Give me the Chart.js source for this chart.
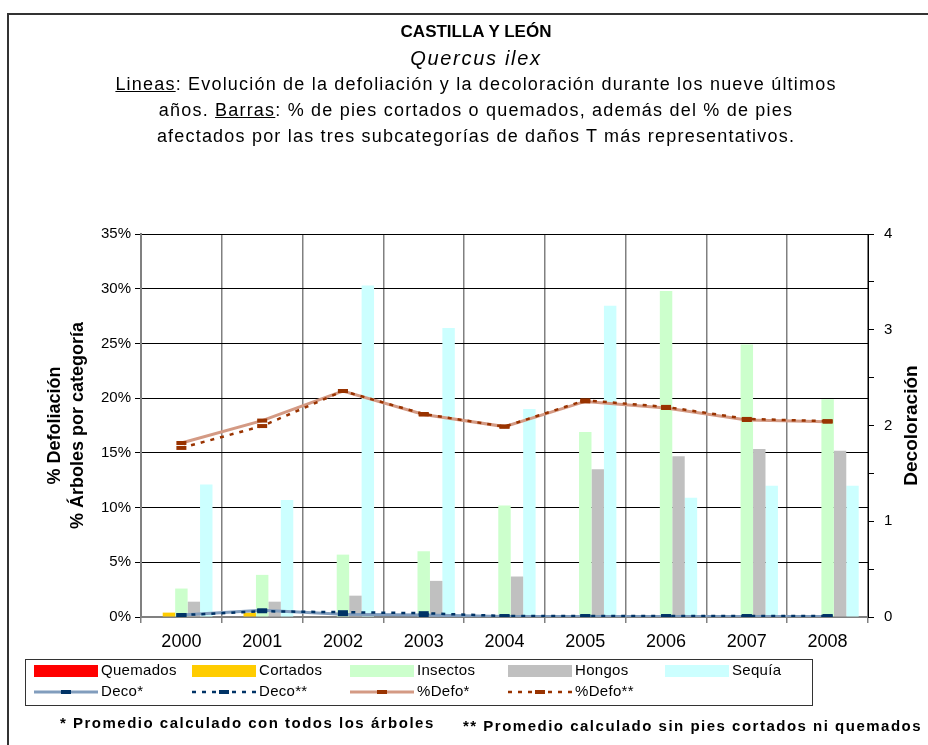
<!DOCTYPE html>
<html>
<head>
<meta charset="utf-8">
<script src="https://cdn.jsdelivr.net/npm/chart.js@4.4.1/dist/chart.umd.min.js"></script>
<style>
  body { margin: 0; width: 928px; height: 745px; overflow: hidden; background: #fff; font-family: "Liberation Sans", Arial, sans-serif; }
  #marco { position: absolute; left: 7px; top: 13px; width: 1000px; height: 800px; border: 2px solid #333; }
  #grafico { position: absolute; left: 0; top: 0; }
  #titulo { position: absolute; left: 0; top: 19px; width: 952px; text-align: center; line-height: 26px; font-size: 18px; letter-spacing: 1.2px; color: #000; }
  #titulo .t1 { font-weight: bold; font-size: 17px; letter-spacing: 0; }
  #titulo .t2 { font-style: italic; font-size: 20px; letter-spacing: 1.7px; }
  .nota { position: absolute; font-weight: bold; font-size: 15px; letter-spacing: 1.5px; white-space: nowrap; color: #000; }
</style>
</head>
<body>
<div id="marco"></div>
<canvas id="grafico" width="928" height="745"></canvas>
<div id="titulo">
  <div class="t1">CASTILLA Y LEÓN</div>
  <div class="t2">Quercus ilex</div>
  <div><u>Lineas</u>: Evolución de la defoliación y la decoloración durante los nueve últimos</div>
  <div>años. <u>Barras</u>: % de pies cortados o quemados, además del % de pies</div>
  <div>afectados por las tres subcategorías de daños T más representativos.</div>
</div>
<div class="nota" style="left:60px; top:714px;">* Promedio calculado con todos los árboles</div>
<div class="nota" style="left:463px; top:717px;">** Promedio calculado sin pies cortados ni quemados</div>
<script>
// Datos
const anios = ['2000', '2001', '2002', '2003', '2004', '2005', '2006', '2007', '2008'];
const quemados = [0, 0, 0, 0, 0, 0, 0, 0.1, 0];
const cortados = [0.4, 0.4, 0, 0, 0, 0, 0, 0, 0];
const insectos = [2.6, 3.85, 5.7, 6.0, 10.2, 16.9, 29.8, 24.9, 19.9];
const hongos = [1.4, 1.4, 1.95, 3.3, 3.7, 13.5, 14.7, 15.35, 15.2];
const sequia = [12.1, 10.7, 30.3, 26.4, 19.0, 28.45, 10.9, 12.0, 12.0];
const decoTodos = [0.02, 0.07, 0.03, 0.02, 0.005, 0.005, 0.005, 0.005, 0.005];
const decoSinCortados = [0.02, 0.06, 0.05, 0.04, 0.01, 0.01, 0.01, 0.01, 0.01];
const defoTodos = [15.9, 17.95, 20.65, 18.5, 17.4, 19.7, 19.1, 18.0, 17.85];
const defoSinCortados = [15.45, 17.45, 20.65, 18.55, 17.4, 19.8, 19.2, 18.1, 17.9];

const fuente = '"Liberation Sans", Arial, sans-serif';
Chart.defaults.font.family = fuente;
Chart.defaults.color = '#000';

// Leyenda en rejilla con marco, como en el original
const leyenda = {
  id: 'leyenda',
  afterDraw(chart) {
    const ctx = chart.ctx;
    ctx.save();
    ctx.strokeStyle = '#333';
    ctx.lineWidth = 1;
    ctx.strokeRect(25.5, 659.5, 787, 46);
    ctx.font = '15px ' + fuente;
    ctx.letterSpacing = '0.3px';
    ctx.textBaseline = 'middle';
    ctx.fillStyle = '#000';
    const columnas = [34, 192, 350, 508, 665];
    chart.data.datasets.forEach((ds, i) => {
      const x = columnas[i % 5];
      const y = i < 5 ? 671 : 692;
      if (ds.type === 'line') {
        ctx.strokeStyle = ds.borderColor;
        ctx.lineWidth = ds.borderWidth;
        ctx.setLineDash(ds.borderDash || []);
        ctx.beginPath();
        ctx.moveTo(x, y);
        ctx.lineTo(x + 64, y);
        ctx.stroke();
        ctx.setLineDash([]);
        ctx.fillStyle = ds.pointBorderColor;
        ctx.fillRect(x + 27, y - 2, 10, 4);
      } else {
        ctx.fillStyle = ds.backgroundColor;
        ctx.fillRect(x, y - 6, 64, 12);
      }
      ctx.fillStyle = '#000';
      ctx.fillText(ds.label, x + 67, y);
    });
    ctx.restore();
  }
};

// Título del eje derecho, leído de abajo arriba
const tituloDerecho = {
  id: 'tituloDerecho',
  afterDraw(chart) {
    const ctx = chart.ctx;
    ctx.save();
    ctx.translate(912, (chart.chartArea.top + chart.chartArea.bottom) / 2);
    ctx.rotate(-Math.PI / 2);
    ctx.font = 'bold 19px ' + fuente;
    ctx.textAlign = 'center';
    ctx.textBaseline = 'middle';
    ctx.fillStyle = '#000';
    ctx.fillText('Decoloración', 0, 0);
    ctx.restore();
  }
};

new Chart(document.getElementById('grafico'), {
  type: 'bar',
  data: {
    labels: anios,
    datasets: [
      { label: 'Quemados', data: quemados, backgroundColor: '#FF0000', order: 3 },
      { label: 'Cortados', data: cortados, backgroundColor: '#FFCC00', order: 3 },
      { label: 'Insectos', data: insectos, backgroundColor: '#CCFFCC', order: 3 },
      { label: 'Hongos', data: hongos, backgroundColor: '#C0C0C0', order: 3 },
      { label: 'Sequía', data: sequia, backgroundColor: '#CCFFFF', order: 3 },
      {
        type: 'line', label: 'Deco*', data: decoTodos, yAxisID: 'y2', order: 2,
        borderColor: '#819DBD', borderWidth: 3,
        pointStyle: 'line', pointRadius: 5, pointBorderWidth: 4, pointBorderColor: '#003366'
      },
      {
        type: 'line', label: 'Deco**', data: decoSinCortados, yAxisID: 'y2', order: 1,
        borderColor: '#003366', borderWidth: 2.5, borderDash: [4, 6],
        pointStyle: 'line', pointRadius: 5, pointBorderWidth: 4, pointBorderColor: '#003366'
      },
      {
        type: 'line', label: '%Defo*', data: defoTodos, yAxisID: 'y', order: 2,
        borderColor: '#D49A84', borderWidth: 3,
        pointStyle: 'line', pointRadius: 5, pointBorderWidth: 4, pointBorderColor: '#993300'
      },
      {
        type: 'line', label: '%Defo**', data: defoSinCortados, yAxisID: 'y', order: 1,
        borderColor: '#993300', borderWidth: 2.5, borderDash: [4, 6],
        pointStyle: 'line', pointRadius: 5, pointBorderWidth: 4, pointBorderColor: '#993300'
      }
    ]
  },
  options: {
    responsive: false,
    animation: false,
    layout: { padding: { left: 0, right: 0, top: 234, bottom: 88 } },
    datasets: { bar: { categoryPercentage: 0.77, barPercentage: 1 } },
    plugins: { legend: { display: false }, tooltip: { enabled: false } },
    scales: {
      x: {
        grid: { color: '#808080', lineWidth: 1.5, tickLength: 6, tickColor: '#808080' },
        border: { color: '#808080', width: 2 },
        ticks: { font: { size: 18 }, color: '#000', padding: 8 },
        afterFit: s => { s.height = 40; }
      },
      y: {
        position: 'left', min: 0, max: 35,
        ticks: { stepSize: 5, callback: v => v + '%', font: { size: 15 }, color: '#000', padding: 4 },
        grid: { color: '#000', lineWidth: 1, tickLength: 6 },
        border: { color: '#808080', width: 2 },
        title: {
          display: true, text: ['% Defoliación', '% Árboles por categoría'],
          font: { size: 18, weight: 'bold', lineHeight: 1.28 }, color: '#000', padding: { top: 43.5 }
        },
        afterFit: s => { s.width = 141; }
      },
      y2: {
        position: 'right', min: 0, max: 4,
        ticks: { stepSize: 0.5, callback: v => Number.isInteger(v) ? v : '', font: { size: 15 }, color: '#000', padding: 10 },
        grid: { drawOnChartArea: false, tickLength: 6, color: '#000' },
        border: { color: '#000', width: 1 },
        afterFit: s => { s.width = 60; }
      }
    }
  },
  plugins: [leyenda, tituloDerecho]
});
</script>
</body>
</html>
